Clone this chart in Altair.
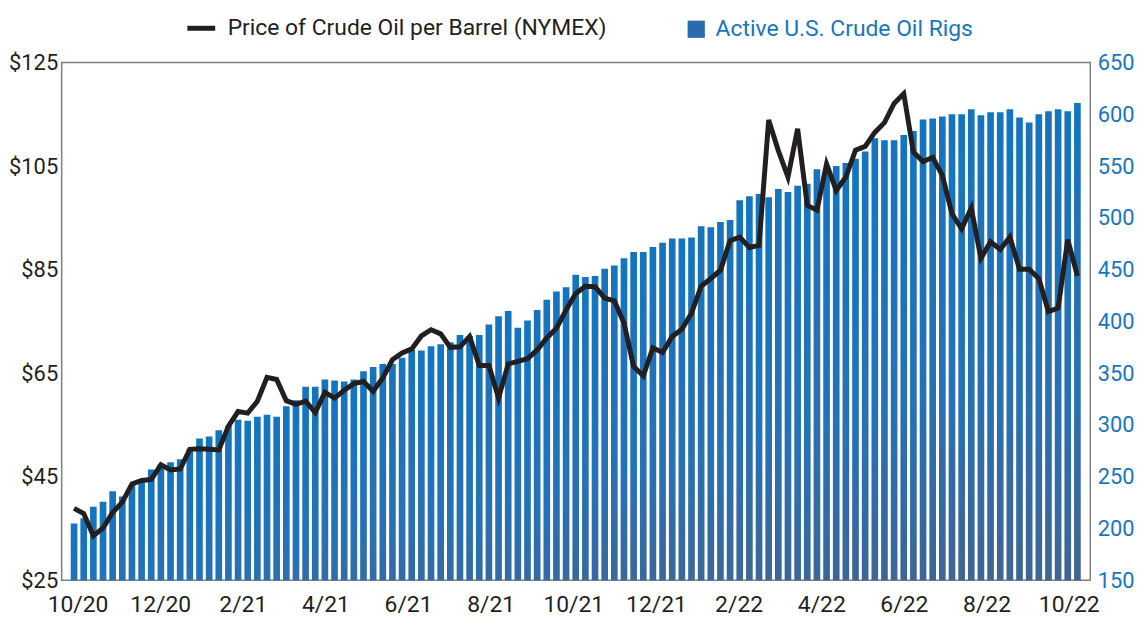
import altair as alt
import pandas as pd

# Weekly observations (index 0 = mid-Oct 2020 ... index 104 = mid-Oct 2022)
rigs = [205, 210, 221, 226, 236, 231, 242, 245, 257, 262, 264, 267, 277, 287, 289, 295,
        299, 305, 304, 308, 310, 308, 318, 324, 337, 337, 344, 343, 342, 344, 352, 356,
        359, 359, 365, 373, 372, 376, 378, 380, 387, 386, 387, 397, 405, 410, 394, 401,
        411, 421, 429, 433, 445, 443, 444, 451, 454, 461, 467, 467, 472, 476, 480, 480,
        481, 492, 491, 496, 498, 517, 521, 523, 520, 528, 525, 531, 533, 547, 548, 550,
        553, 557, 564, 577, 575, 575, 580, 584, 595, 596, 598, 600, 600, 605, 599, 602,
        602, 605, 597, 592, 600, 603, 605, 603, 611]

price = [38.9, 37.9, 33.6, 35.1, 38.1, 40.1, 43.6, 44.3, 44.5, 47.3, 46.3, 46.5, 50.3, 50.4,
         50.3, 50.2, 54.8, 57.6, 57.3, 59.6, 64.2, 63.8, 59.7, 59.0, 59.6, 57.4, 61.3, 60.2,
         61.7, 63.0, 63.4, 61.5, 64.1, 67.6, 68.9, 69.7, 72.2, 73.4, 72.6, 70.0, 70.1, 72.1,
         66.5, 66.5, 60.2, 66.8, 67.3, 67.8, 69.5, 71.8, 73.7, 77.2, 80.4, 81.8, 81.7, 79.5,
         79.0, 74.7, 66.3, 64.5, 69.9, 69.0, 72.1, 73.5, 76.6, 81.8, 83.3, 84.9, 90.6, 91.3,
         89.3, 89.7, 113.9, 108.0, 102.9, 112.2, 97.4, 96.5, 105.4, 100.3, 102.9, 108.1, 108.8,
         111.5, 113.4, 117.1, 119.0, 107.7, 105.9, 106.7, 103.2, 95.8, 92.9, 96.9, 87.2, 90.4,
         88.9, 91.3, 85.1, 85.1, 83.3, 76.9, 77.6, 90.8, 83.8]

tick_labels = ["10/20", "12/20", "2/21", "4/21", "6/21", "8/21", "10/21",
               "12/21", "2/22", "4/22", "6/22", "8/22", "10/22"]
tick_weeks = [0.36, 8.93, 17.49, 26.06, 34.62, 43.19, 51.75, 60.32, 68.88, 77.45, 86.01, 94.58, 103.1]

price_ticks = [25, 45, 65, 85, 105, 125]
rig_ticks = [150, 200, 250, 300, 350, 400, 450, 500, 550, 600, 650]

LINE_NAME = "Price of Crude Oil per Barrel (NYMEX)"
BAR_NAME = "Active U.S. Crude Oil Rigs"

df = pd.DataFrame({"week": list(range(len(rigs))), "rigs": rigs, "price": price})
df["series"] = LINE_NAME
legend_df = pd.DataFrame({"week": [0], "series": [BAR_NAME]})

FONT = "Roboto"
BLACK = "#231f20"
BLUE = "#1a75bc"

xscale = alt.Scale(domain=[-0.77, 104.82], nice=False, zero=False)
xlabel_expr = "{}[indexof({}, datum.value)]".format(
    "[" + ",".join("'%s'" % t for t in tick_labels) + "]",
    "[" + ",".join(str(v) for v in tick_weeks) + "]")
xaxis = alt.Axis(values=tick_weeks, labelExpr=xlabel_expr, title=None, ticks=False,
                 domain=False, grid=False, labelFontSize=23, labelColor=BLACK,
                 labelFont=FONT, labelPadding=13, labelFlush=False, labelOverlap=False)

gradient = alt.Gradient(
    gradient="linear",
    stops=[alt.GradientStop(offset=0, color="#1474bf"),
           alt.GradientStop(offset=0.45, color="#2771b5"),
           alt.GradientStop(offset=1, color="#525b78")],
    x1=0, x2=0, y1=0, y2=1)

bars = alt.Chart(df).mark_bar(color=gradient, width=6.7, clip=True).encode(
    x=alt.X("week:Q", scale=xscale, axis=xaxis),
    y=alt.Y("rigs:Q", scale=alt.Scale(domain=[150, 650], nice=False, zero=False),
            axis=alt.Axis(orient="right", values=rig_ticks, title=None, ticks=False,
                          domain=False, grid=False, labelFontSize=22, labelColor=BLUE,
                          labelFont=FONT, labelPadding=7)),
)

bar_legend = alt.Chart(legend_df).mark_square(opacity=0).encode(
    x=alt.X("week:Q", scale=xscale, axis=xaxis),
    y=alt.value(0),
    fill=alt.Fill("series:N", scale=alt.Scale(domain=[BAR_NAME], range=["#2a6bb0"]),
                  legend=alt.Legend(orient="none", legendX=627, legendY=-45, title=None,
                                    symbolType="square", symbolSize=300, symbolOpacity=1,
                                    symbolStrokeWidth=0, labelFontSize=23, labelFont=FONT,
                                    labelColor=BLUE, labelOffset=8, labelLimit=0,
                                    padding=0)),
)

line = alt.Chart(df).mark_line(strokeWidth=5, clip=True).encode(
    x=alt.X("week:Q", scale=xscale, axis=xaxis),
    y=alt.Y("price:Q", scale=alt.Scale(domain=[25, 125], nice=False, zero=False),
            axis=alt.Axis(orient="left", values=price_ticks, labelExpr="'$' + datum.value",
                          title=None, ticks=False, domain=False, grid=False,
                          labelFontSize=22, labelColor=BLACK, labelFont=FONT, labelPadding=4)),
    stroke=alt.Stroke("series:N", scale=alt.Scale(domain=[LINE_NAME], range=[BLACK]),
                      legend=alt.Legend(orient="none", legendX=124, legendY=-51, title=None,
                                        symbolType="stroke", symbolSize=784,
                                        symbolStrokeWidth=5, labelFontSize=23, labelFont=FONT,
                                        labelColor=BLACK, labelOffset=10, labelLimit=0,
                                        padding=0)),
)

chart = alt.layer(bars, bar_legend, line).resolve_scale(
    y="independent", fill="independent", stroke="independent"
).properties(
    width=1035, height=521,
    autosize=alt.AutoSizeParams(type="none"),
    padding={"left": 54, "top": 53, "right": 46, "bottom": 38},
).configure(
    font=FONT, background="white"
).configure_view(
    stroke="#7f7f7f", strokeWidth=1.5
)

chart.save("out.html", embed_options={"renderer": "svg", "actions": False})
